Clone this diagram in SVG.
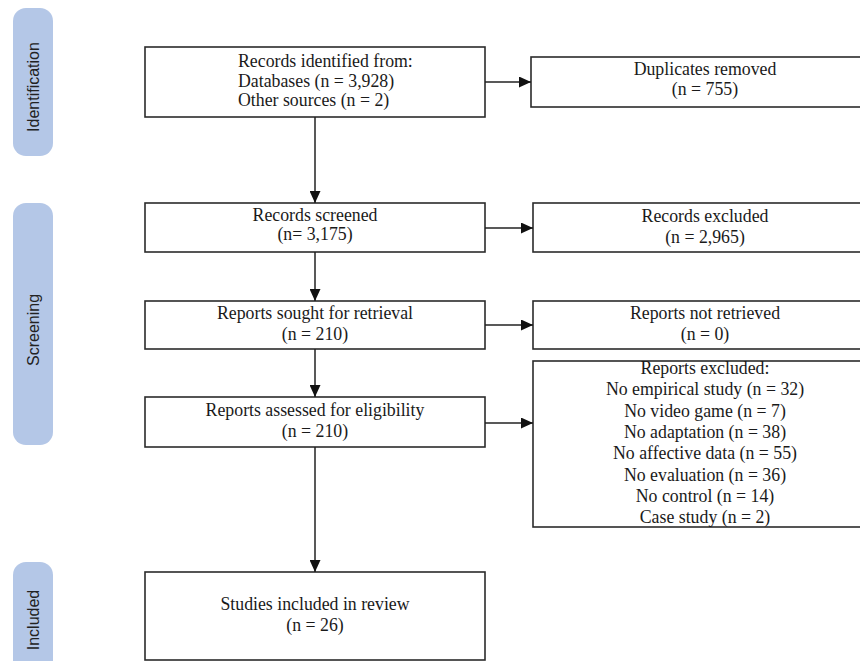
<svg xmlns="http://www.w3.org/2000/svg" width="860" height="661" viewBox="0 0 860 661">
<style>
.bg{fill:#ffffff}
.phase{fill:#b4c7e7}
.ptxt{font-size:16px;fill:#222222;text-anchor:middle;dominant-baseline:central}
.box{fill:#ffffff;stroke:#2b2b2b;stroke-width:1.6}
.t{font-size:17.8px;fill:#1a1a1a;text-anchor:middle}
.tl{font-size:17.8px;fill:#1a1a1a;text-anchor:start}
.conn{fill:none;stroke:#222222;stroke-width:1.5;marker-end:url(#arr)}
</style>
<defs>
<marker id="arr" viewBox="0 0 12 11" refX="12" refY="5.5" markerWidth="12" markerHeight="11" markerUnits="userSpaceOnUse" orient="auto">
<path d="M0,0 L12,5.5 L0,11 z" fill="#111111"/>
</marker>
</defs>
<rect class="bg" x="0" y="0" width="860" height="661"/>

<g font-family="Liberation Sans, Arial, sans-serif">
<g id="phase-identification">
<rect class="phase" x="13" y="8" width="40" height="148" rx="13"/>
<text class="ptxt" transform="translate(33,87) rotate(-90)">Identification</text>
</g>
<g id="phase-screening">
<rect class="phase" x="13" y="203" width="40" height="242" rx="13"/>
<text class="ptxt" transform="translate(33,330) rotate(-90)">Screening</text>
</g>
<g id="phase-included">
<rect class="phase" x="13" y="562" width="40" height="120" rx="13"/>
<text class="ptxt" transform="translate(33,620) rotate(-90)">Included</text>
</g>
</g>

<g font-family="Liberation Serif, Times New Roman, serif">
<g id="records-identified">
<rect class="box" x="145" y="47" width="340" height="70"/>
<text class="tl" x="238" y="67">Records identified from:</text>
<text class="tl" x="238" y="87">Databases (n = 3,928)</text>
<text class="tl" x="238" y="106">Other sources (n = 2)</text>
</g>
<g id="duplicates-removed">
<rect class="box" x="531" y="57" width="340" height="50"/>
<text class="t" x="705" y="75">Duplicates removed</text>
<text class="t" x="705" y="95">(n = 755)</text>
</g>
<g id="records-screened">
<rect class="box" x="145" y="203" width="340" height="49"/>
<text class="t" x="315" y="221">Records screened</text>
<text class="t" x="315" y="240">(n= 3,175)</text>
</g>
<g id="records-excluded">
<rect class="box" x="533" y="203" width="340" height="49"/>
<text class="t" x="705" y="222">Records excluded</text>
<text class="t" x="705" y="243">(n = 2,965)</text>
</g>
<g id="reports-sought">
<rect class="box" x="145" y="301" width="340" height="48"/>
<text class="t" x="315" y="319">Reports sought for retrieval</text>
<text class="t" x="315" y="340">(n = 210)</text>
</g>
<g id="reports-not-retrieved">
<rect class="box" x="533" y="301" width="340" height="48"/>
<text class="t" x="705" y="319">Reports not retrieved</text>
<text class="t" x="705" y="340">(n = 0)</text>
</g>
<g id="reports-assessed">
<rect class="box" x="145" y="397" width="340" height="50"/>
<text class="t" x="315" y="416">Reports assessed for eligibility</text>
<text class="t" x="315" y="437">(n = 210)</text>
</g>
<g id="reports-excluded">
<rect class="box" x="533" y="361" width="340" height="166"/>
<text class="t" x="705" y="374">Reports excluded:</text>
<text class="t" x="705" y="395">No empirical study (n = 32)</text>
<text class="t" x="705" y="417">No video game (n = 7)</text>
<text class="t" x="705" y="438">No adaptation (n = 38)</text>
<text class="t" x="705" y="459">No affective data (n = 55)</text>
<text class="t" x="705" y="481">No evaluation (n = 36)</text>
<text class="t" x="705" y="502">No control (n = 14)</text>
<text class="t" x="705" y="523">Case study (n = 2)</text>
</g>
<g id="studies-included">
<rect class="box" x="145" y="572" width="340" height="88"/>
<text class="t" x="315" y="610">Studies included in review</text>
<text class="t" x="315" y="631">(n = 26)</text>
</g>
</g>

<g id="connectors">
<path class="conn" d="M315,117 L315,203"/>
<path class="conn" d="M315,252 L315,301"/>
<path class="conn" d="M315,349 L315,397"/>
<path class="conn" d="M315,447 L315,572"/>
<path class="conn" d="M485,82 L531,82"/>
<path class="conn" d="M485,228 L533,228"/>
<path class="conn" d="M485,325 L533,325"/>
<path class="conn" d="M485,423 L533,423"/>
</g>
</svg>
